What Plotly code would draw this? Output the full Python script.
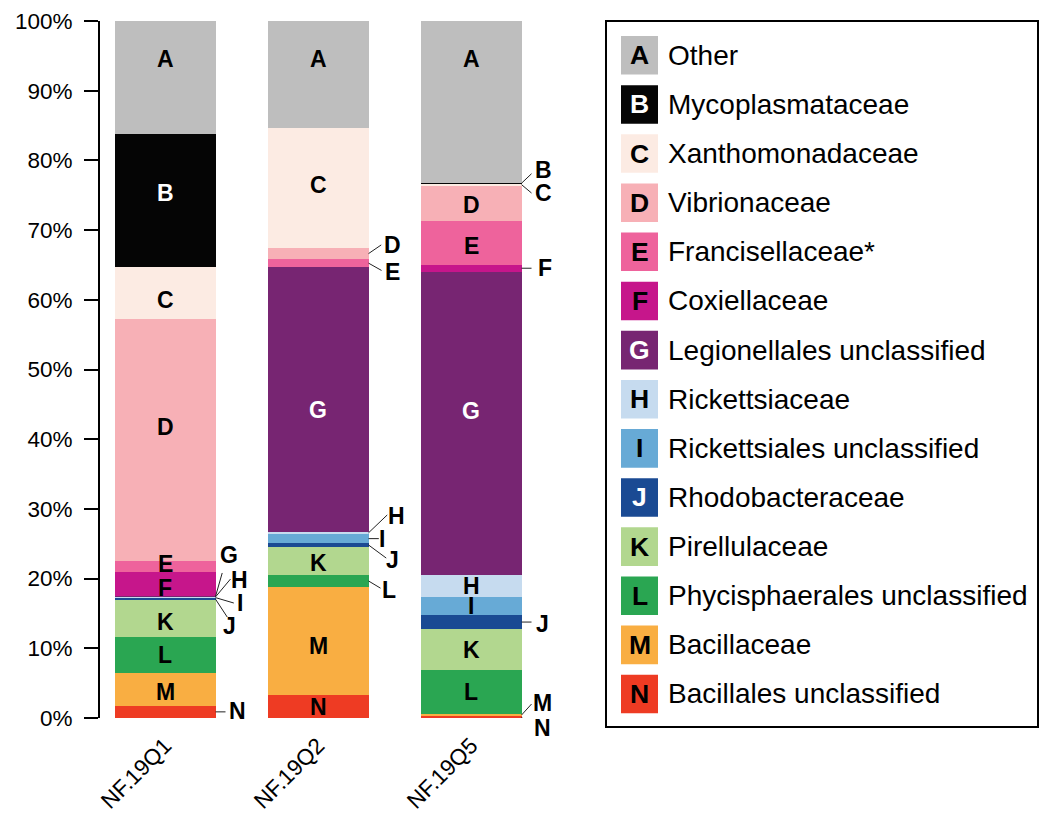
import plotly.graph_objects as go

# ---------------- data ----------------
samples = ["NF.19Q1", "NF.19Q2", "NF.19Q5"]
letters = ["A", "B", "C", "D", "E", "F", "G", "H", "I", "J", "K", "L", "M", "N"]
families = ["Other", "Mycoplasmataceae", "Xanthomonadaceae", "Vibrionaceae",
            "Francisellaceae*", "Coxiellaceae", "Legionellales unclassified",
            "Rickettsiaceae", "Rickettsiales unclassified", "Rhodobacteraceae",
            "Pirellulaceae", "Phycisphaerales unclassified", "Bacillaceae",
            "Bacillales unclassified"]
# relative abundance (%) per sample, in letter order A..N
nf19q1 = [16.20, 19.15, 7.35, 34.73, 1.58, 3.54, 0.03, 0.10, 0.10, 0.35, 5.30, 5.07, 4.74, 1.76]
nf19q2 = [15.31, 0.00, 17.30, 1.53, 1.20, 0.00, 37.93, 0.33, 1.33, 0.49, 4.06, 1.72, 15.56, 3.24]
nf19q5 = [23.20, 0.15, 0.25, 5.06, 6.31, 1.00, 43.47, 3.16, 2.58, 2.11, 5.78, 6.31, 0.39, 0.23]
ytick_vals = [0, 10, 20, 30, 40, 50, 60, 70, 80, 90, 100]
ytick_text = ["0%", "10%", "20%", "30%", "40%", "50%", "60%", "70%", "80%", "90%", "100%"]

# ---------------- styles ----------------
colors = ["#BEBEBE", "#050505", "#FCEBE3", "#F7B0B6", "#EE639C", "#C6168B", "#772572",
          "#C6DBEF", "#67AAD6", "#1A4A93", "#B2D78F", "#2AA652", "#F9AE42", "#EE3B23"]
txtcol = ["black", "white", "black", "black", "black", "black", "white",
          "black", "black", "white", "black", "black", "black", "black"]
FONT = "Liberation Sans, Arial, sans-serif"
W = 1044
H = 818
BW = 0.66
ML, MT, MR, MB = 100, 21, 482, 100
PW = W - ML - MR   # plot width in px
PH = H - MT - MB   # plot height in px

values = [nf19q1, nf19q2, nf19q5]
xs = [0, 1, 2]

fig = go.Figure()
# stack from bottom (N) to top (A)
for k in reversed(range(len(letters))):
    fig.add_trace(go.Bar(
        x=xs, y=[v[k] for v in values], width=BW,
        marker=dict(color=colors[k], line=dict(width=0)),
        name=families[k], showlegend=False, hoverinfo="skip"))

# labels placed outside the bars: (sample index, letter) -> (leader end dx,dy), (text dx,dy) in px (y down)
outside = {
    (0, "G"): ((6.7, -23.5), (13.3, -41.8)),
    (0, "H"): ((15.0, -17.9), (24.3, -16.5)),
    (0, "I"): ((18.3, 5.4), (24.0, 5.4)),
    (0, "J"): ((11.7, 17.8), (14.3, 27.2)),
    (0, "N"): ((10.0, 0.0), (22.3, -0.5)),
    (1, "D"): ((12.7, -8.7), (23.7, -8.7)),
    (1, "E"): ((13.0, 7.3), (24.3, 9.3)),
    (1, "H"): ((18.7, -17.9), (27.7, -16.9)),
    (1, "I"): ((10.3, 0.0), (13.7, 0.5)),
    (1, "J"): ((17.7, 13.1), (23.7, 14.8)),
    (1, "L"): ((12.0, 7.2), (20.3, 8.9)),
    (2, "B"): ((10.0, -9.5), (22.3, -12.8)),
    (2, "C"): ((10.0, 8.4), (22.3, 8.4)),
    (2, "F"): ((10.0, 0.0), (23.0, 0.0)),
    (2, "J"): ((10.0, 0.0), (20.7, 2.0)),
    (2, "M"): ((10.0, -11.0), (20.7, -12.0)),
    (2, "N"): ((10.0, 10.2), (20.7, 10.8)),
}
# small vertical nudges (px, down positive) of in-bar labels away from the segment centre
nudge = {
    (0, "B"): -8, (0, "C"): 7, (0, "D"): -13, (0, "E"): -2, (0, "F"): 4,
    (0, "K"): 3, (0, "M"): 3,
    (1, "C"): -3, (1, "G"): 10.5, (1, "K"): 2, (1, "M"): 5,
    (2, "D"): 2, (2, "E"): 3, (2, "G"): -12.5,
}

annotations = []
shapes = []
for i, vals in enumerate(values):
    bottom = 0.0
    spans = {}
    for k in reversed(range(len(letters))):
        spans[k] = (bottom, bottom + vals[k])
        bottom += vals[k]
    for k, L in enumerate(letters):
        lo, hi = spans[k]
        if vals[k] <= 0:
            continue
        center = (lo + hi) / 2
        if (i, L) in outside:
            (lx, ly), (tx, ty) = outside[(i, L)]
            edge = xs[i] + BW / 2
            shapes.append(dict(type="line", xref="x", yref="y",
                               xsizemode="pixel", ysizemode="pixel",
                               xanchor=edge, yanchor=center,
                               x0=0, y0=0, x1=lx, y1=-ly,
                               line=dict(color="#222222", width=1)))
            annotations.append(dict(x=edge, y=center, xref="x", yref="y",
                                    text="<b>%s</b>" % L, showarrow=False,
                                    xshift=tx, yshift=-ty,
                                    xanchor="center", yanchor="middle",
                                    font=dict(family=FONT, size=23, color="black")))
        else:
            ly = hi - 5.4 if L == "A" else center
            annotations.append(dict(x=xs[i], y=ly, xref="x", yref="y",
                                    text="<b>%s</b>" % L, showarrow=False,
                                    yshift=-nudge.get((i, L), 0),
                                    xanchor="center", yanchor="middle",
                                    font=dict(family=FONT, size=23, color=txtcol[k])))

# ---------------- custom legend (paper coords from pixel positions) ----------------
def px(x):
    return (x - ML) / PW

def py(y):
    return (H - MB - y) / PH

shapes.append(dict(type="rect", xref="paper", yref="paper",
                   x0=px(606), x1=px(1038), y0=py(21), y1=py(727),
                   line=dict(color="black", width=2), fillcolor="rgba(0,0,0,0)"))
row0 = 55.3
pitch = 49.13
for k, L in enumerate(letters):
    cy = row0 + k * pitch
    shapes.append(dict(type="rect", xref="paper", yref="paper",
                       x0=px(621), x1=px(658), y0=py(cy - 19.3), y1=py(cy + 19.3),
                       line=dict(width=0), fillcolor=colors[k]))
    annotations.append(dict(x=px(639.5), y=py(cy), xref="paper", yref="paper",
                            text="<b>%s</b>" % L, showarrow=False,
                            xanchor="center", yanchor="middle",
                            font=dict(family=FONT, size=26.5, color=txtcol[k])))
    annotations.append(dict(x=px(666), y=py(cy), xref="paper", yref="paper",
                            text=families[k], showarrow=False,
                            xanchor="left", yanchor="middle",
                            font=dict(family=FONT, size=28, color="black")))

x_left = -0.425
x_right = x_left + PW / 153.0
fig.update_layout(
    width=W, height=H,
    autosize=False,
    margin=dict(l=ML, r=MR, t=MT, b=MB, pad=0, autoexpand=False),
    paper_bgcolor="white", plot_bgcolor="white",
    barmode="stack", bargap=0,
    font=dict(family=FONT, color="black"),
    xaxis=dict(range=[x_left, x_right], tickmode="array", tickvals=xs, ticktext=samples,
               tickangle=-45, showline=False, showgrid=False, zeroline=False,
               ticks="", tickfont=dict(family=FONT, size=22.5, color="black"),
               ticklabelstandoff=9, automargin=False),
    yaxis=dict(range=[0, 100],
               tickmode="array", tickvals=ytick_vals, ticktext=ytick_text,
               showline=True, linecolor="black", linewidth=2,
               ticks="outside", ticklen=14, tickwidth=2, tickcolor="black",
               showgrid=False, zeroline=False,
               tickfont=dict(family=FONT, size=22.5, color="black"),
               ticklabelstandoff=7, automargin=False),
    shapes=shapes, annotations=annotations,
)

fig.write_html("out.html", config={"displayModeBar": False},
               post_script="document.body.style.margin='0';document.body.style.overflow='hidden';")
